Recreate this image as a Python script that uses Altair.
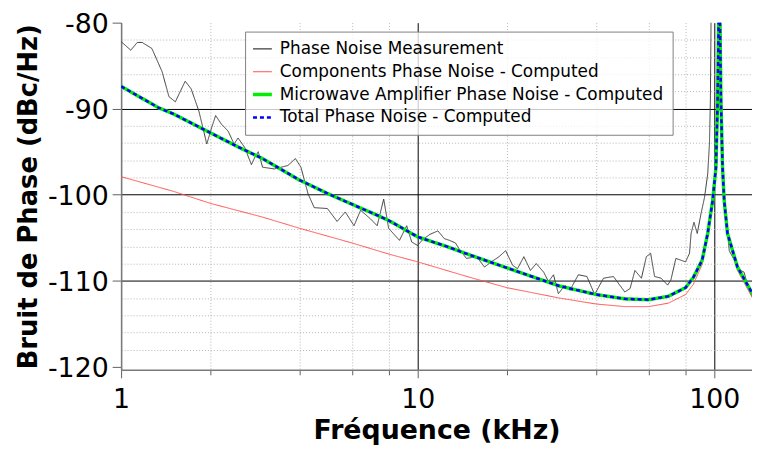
import altair as alt
import pandas as pd

# ---------------- data ----------------
names = [
    "Phase Noise Measurement",
    "Components Phase Noise - Computed",
    "Microwave Amplifier Phase Noise - Computed",
    "Total Phase Noise - Computed",
]

meas_f = [1.0, 1.078, 1.134, 1.178, 1.27, 1.375, 1.45, 1.524, 1.583, 1.645, 1.723,
          1.83, 1.945, 2.02, 2.083, 2.18, 2.295, 2.405, 2.48, 2.61, 2.75, 2.82, 2.9,
          3.0, 3.29, 3.65, 3.87, 4.04, 4.27, 4.48, 4.96, 5.35, 5.7, 6.1, 6.42, 6.93,
          7.3, 7.68, 7.98, 8.68, 9.18, 9.55, 10.0, 10.4, 11.0, 11.7, 12.3, 12.8, 13.4,
          13.8, 14.6, 15.8, 16.8, 17.7, 18.8, 19.8, 20.9, 21.7, 22.8, 24.0, 25.1,
          26.6, 27.6, 28.7, 29.8, 31.4, 32.6, 34.8, 37.2, 39.5, 42.3, 45.7, 49.9,
          52.0, 54.0, 56.8, 59.0, 61.0, 62.9, 66.2, 69.6, 71.4, 74.2, 77.1, 80.0,
          82.5, 83.5, 85.4, 87.6, 90.2, 92.7, 95.0, 96.3, 97.0, 97.5, 98.3, 104.5,
          105.3, 106.6, 108.5, 110.5, 112.3, 118.5, 122.9, 126.0, 130.9, 136.0]
meas_db = [-82.2, -83.2, -82.3, -82.3, -83.0, -85.7, -88.6, -89.2, -88.0, -86.8, -87.7,
           -90.3, -94.1, -92.2, -90.8, -91.8, -92.6, -94.1, -93.4, -94.5, -96.5, -95.7, -95.0,
           -96.8, -97.0, -96.6, -95.8, -96.8, -99.9, -101.5, -101.6, -103.1, -102.0, -103.6, -101.8, -102.8,
           -103.6, -100.5, -103.9, -105.3, -103.6, -105.5, -105.9, -105.2, -104.6, -104.2, -105.1, -105.3, -105.6,
           -106.3, -107.4, -107.2, -108.4, -107.8, -107.2, -106.5, -108.2, -108.6, -107.2, -108.8, -108.0,
           -109.0, -110.1, -109.3, -111.5, -110.5, -111.1, -109.3, -109.5, -111.6, -109.7, -109.5, -111.3,
           -110.9, -108.8, -109.7, -107.2, -106.8, -109.5, -109.7, -110.5, -109.9, -107.4, -107.6, -107.8,
           -106.8, -104.5, -103.2, -104.5, -102.2, -100.3, -97.6, -94.1, -89.1, -80.0, -70.0, -70.0,
           -85.0, -95.0, -101.0, -104.0, -106.5, -108.0, -108.8, -109.0, -111.1, -112.2]

comp_f = [1.0, 1.5, 2.0, 3.0, 4.0, 6.0, 8.0, 10.0, 15.0, 20.0, 30.0, 40.0, 50.0, 60.0,
          70.0, 80.0, 85.0, 91.0, 95.0, 98.7, 101.3, 102.6, 103.4, 103.9, 104.5, 105.3,
          106.6, 108.0, 110.8, 119.7, 136.0]
comp_db = [-97.9, -99.6, -101.0, -102.6, -103.9, -105.6, -106.9, -107.8, -109.6, -110.8,
           -112.0, -112.7, -113.0, -113.0, -112.6, -111.6, -110.4, -108.1, -104.9, -101.0,
           -97.1, -89.4, -80.3, -72.0, -80.3, -89.4, -97.1, -101.0, -104.8, -108.8, -112.3]

total_f = [1.0, 1.34, 1.5, 2.0, 2.5, 3.0, 4.0, 5.0, 6.0, 7.0, 8.0, 10.0, 12.5, 15.0, 20.0,
           30.0, 40.0, 50.0, 60.0, 70.0, 80.0, 85.0, 91.0, 95.0, 98.7, 101.3, 102.6, 103.4,
           103.9, 104.5, 105.3, 106.6, 108.0, 110.8, 119.7, 136.0]
total_db = [-87.4, -89.9, -90.6, -92.8, -94.5, -95.8, -98.3, -99.9, -101.1, -102.1, -103.0,
            -104.9, -106.0, -107.0, -108.5, -110.6, -111.6, -112.1, -112.2, -111.8, -110.8,
            -109.6, -107.6, -104.5, -100.7, -96.8, -89.1, -80.0, -72.0, -80.0, -89.1, -96.8,
            -100.7, -104.5, -108.4, -111.8]

# the amplifier curve coincides with the total curve in the picture
amp_f = list(total_f)
amp_db = list(total_db)

x_ticks = [1, 2, 4, 6, 8, 10, 20, 40, 60, 80, 100]
y_ticks = list(range(-120, -79, 2))

# ---------------- styles ----------------
colors = ["#3c3c3c", "#ff5050", "#00ee00", "#0000ff"]
dashes = [[1, 0], [1, 0], [1, 0], [4, 3]]
widths = [1.0, 1.0, 3.5, 2.5]

FONT = "DejaVu Sans"


def frame(fs, dbs, name):
    return pd.DataFrame({"f": fs, "db": dbs, "series": [name] * len(fs)})


frames = [
    frame(meas_f, meas_db, names[0]),
    frame(comp_f, comp_db, names[1]),
    frame(amp_f, amp_db, names[2]),
    frame(total_f, total_db, names[3]),
]

xmajor = "datum.value == 1 || datum.value == 10 || datum.value == 100"

x_axis = alt.Axis(
    values=x_ticks,
    labelExpr="(" + xmajor + ") ? ('' + datum.value) : ''",
    title="Fréquence (kHz)",
    titleFont=FONT, titleFontSize=27, titleFontWeight="bold", titleColor="black",
    titlePadding=5,
    labelFont=FONT, labelFontSize=27, labelColor="black", labelPadding=9,
    labelFlush=False, labelOverlap=False,
    grid=True,
    gridColor={"condition": {"test": xmajor, "value": "#000000"}, "value": "#b4b4b4"},
    gridDash={"condition": {"test": xmajor, "value": []}, "value": [1, 2]},
    gridWidth=1,
    tickColor="#606060",
    tickSize={"condition": {"test": xmajor, "value": 8}, "value": 5},
    domainColor="#7a7a7a", domainWidth=1.5,
)

ymajor = "datum.value % 10 == 0"
y_axis = alt.Axis(
    values=y_ticks,
    labelExpr="(" + ymajor + ") ? ('' + datum.value) : ''",
    title="Bruit de Phase (dBc/Hz)",
    titleFont=FONT, titleFontSize=26, titleFontWeight="bold", titleColor="black",
    titlePadding=6,
    labelFont=FONT, labelFontSize=27, labelColor="black", labelPadding=4,
    labelOffset=2,
    labelFlush=False, labelOverlap=False,
    grid=True,
    gridColor={"condition": {"test": ymajor, "value": "#000000"}, "value": "#b4b4b4"},
    gridDash={"condition": {"test": ymajor, "value": []}, "value": [1, 2]},
    gridOpacity={"condition": {"test": "datum.value == -80 || datum.value == -120", "value": 0}, "value": 1},
    gridWidth=1,
    tickColor="#606060", tickSize=9,
    tickOpacity={"condition": {"test": ymajor, "value": 1}, "value": 0},
    domainColor="#7a7a7a", domainWidth=1.5,
)

width_expr = ("datum.value === '" + names[2] + "' ? " + str(widths[2]) +
              " : (datum.value === '" + names[3] + "' ? " + str(widths[3]) + " : 1.2)")

legend = alt.Legend(
    orient="none", legendX=125, legendY=9, title=None,
    symbolType="stroke", symbolSize=361,
    symbolStrokeWidth=alt.ExprRef(expr=width_expr),
    labelFont=FONT, labelFontSize=17, labelColor="black", labelLimit=600,
    labelOffset=9, rowPadding=5, padding=9,
    fillColor="rgba(255,255,255,0.78)", strokeColor="#808080",
)

xs = alt.Scale(type="log", domain=[1, 134], nice=False)
ys = alt.Scale(domain=[-120.35, -80], nice=False, zero=False)

layers = []
for df, w in zip(frames, widths):
    layers.append(
        alt.Chart(df).mark_line(clip=True, strokeWidth=w).encode(
            x=alt.X("f:Q", scale=xs, axis=x_axis),
            y=alt.Y("db:Q", scale=ys, axis=y_axis),
            color=alt.Color("series:N", scale=alt.Scale(domain=names, range=colors), legend=legend),
            strokeDash=alt.StrokeDash("series:N", scale=alt.Scale(domain=names, range=dashes), legend=legend),
            order=alt.Order("f:Q"),
        )
    )

chart = alt.layer(*layers).properties(
    width=636, height=350,
    padding={"left": 114, "top": 13, "right": 0, "bottom": 78},
    autosize=alt.AutoSizeParams(type="none"),
    background="white",
).configure_view(strokeWidth=0)

chart.save("out.html", embed_options={"renderer": "svg", "actions": False})
